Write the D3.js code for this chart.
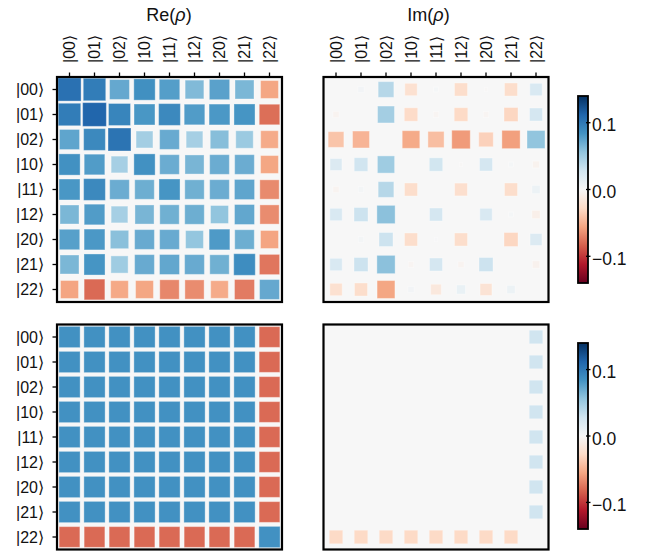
<!DOCTYPE html>
<html>
<head>
<meta charset="utf-8">
<script src="https://cdn.jsdelivr.net/npm/d3@7"></script>
<style>
  body { margin: 0; background: #fff; }
  svg { display: block; font-family: "Liberation Sans", Arial, sans-serif; }
</style>
</head>
<body>
<script>
// basis states (rows and columns of the density matrix)
const states = ["00", "01", "02", "10", "11", "12", "20", "21", "22"];

// measured Re(rho), rows in the order of `states`
const reMeasured = [
  [0.105, 0.098, 0.072, 0.086, 0.078, 0.062, 0.076, 0.064, -0.055],
  [0.098, 0.112, 0.093, 0.082, 0.090, 0.079, 0.081, 0.083, -0.078],
  [0.074, 0.090, 0.103, 0.048, 0.071, 0.047, 0.060, 0.052, -0.053],
  [0.085, 0.079, 0.047, 0.085, 0.070, 0.065, 0.070, 0.070, -0.055],
  [0.082, 0.090, 0.070, 0.069, 0.083, 0.068, 0.070, 0.074, -0.067],
  [0.064, 0.079, 0.047, 0.065, 0.068, 0.069, 0.056, 0.073, -0.066],
  [0.077, 0.081, 0.059, 0.071, 0.071, 0.055, 0.080, 0.069, -0.056],
  [0.064, 0.083, 0.050, 0.071, 0.073, 0.071, 0.068, 0.088, -0.075],
  [-0.056, -0.080, -0.054, -0.055, -0.068, -0.066, -0.053, -0.073, 0.072]
];

// measured Im(rho)
const imMeasured = [
  [0, 0.004, 0.040, -0.022, 0.002, -0.025, -0.001, -0.025, 0.022],
  [-0.004, 0, 0.048, -0.027, -0.003, -0.028, -0.003, -0.030, 0.025],
  [-0.040, -0.048, 0, -0.053, -0.043, -0.060, -0.033, -0.058, 0.056],
  [0.020, 0.028, 0.050, 0, 0.027, -0.001, 0.025, 0.002, -0.005],
  [-0.004, 0.003, 0.040, -0.025, 0, -0.024, 0, -0.025, 0.008],
  [0.022, 0.030, 0.058, 0, 0.025, 0, 0.022, 0.002, -0.008],
  [0, 0.003, 0.030, -0.025, 0.001, -0.025, 0, -0.030, 0.020],
  [0.022, 0.030, 0.058, -0.003, 0.025, -0.004, 0.030, 0, -0.006],
  [-0.022, -0.025, -0.055, 0.004, -0.015, 0.010, -0.020, 0.008, 0]
];

// ideal Re(rho)
const reIdeal = [
  [0.085, 0.085, 0.085, 0.085, 0.085, 0.085, 0.085, 0.085, -0.08],
  [0.085, 0.085, 0.085, 0.085, 0.085, 0.085, 0.085, 0.085, -0.08],
  [0.085, 0.085, 0.085, 0.085, 0.085, 0.085, 0.085, 0.085, -0.08],
  [0.085, 0.085, 0.085, 0.085, 0.085, 0.085, 0.085, 0.085, -0.08],
  [0.085, 0.085, 0.085, 0.085, 0.085, 0.085, 0.085, 0.085, -0.08],
  [0.085, 0.085, 0.085, 0.085, 0.085, 0.085, 0.085, 0.085, -0.08],
  [0.085, 0.085, 0.085, 0.085, 0.085, 0.085, 0.085, 0.085, -0.08],
  [0.085, 0.085, 0.085, 0.085, 0.085, 0.085, 0.085, 0.085, -0.08],
  [-0.08, -0.08, -0.08, -0.08, -0.08, -0.08, -0.08, -0.08, 0.085]
];

// ideal Im(rho)
const imIdeal = [
  [0, 0, 0, 0, 0, 0, 0, 0, 0.028],
  [0, 0, 0, 0, 0, 0, 0, 0, 0.028],
  [0, 0, 0, 0, 0, 0, 0, 0, 0.028],
  [0, 0, 0, 0, 0, 0, 0, 0, 0.028],
  [0, 0, 0, 0, 0, 0, 0, 0, 0.028],
  [0, 0, 0, 0, 0, 0, 0, 0, 0.028],
  [0, 0, 0, 0, 0, 0, 0, 0, 0.028],
  [0, 0, 0, 0, 0, 0, 0, 0, 0.028],
  [-0.028, -0.028, -0.028, -0.028, -0.028, -0.028, -0.028, -0.028, 0]
];

const colorbarTicks = [-0.1, 0, 0.1];

const width = 647, height = 552;
const side = 225;
const vmax = 0.14;
const ket = s => `|${s}\u27E9`;

// RdBu like matplotlib: linear through the 11 brewer colours
const rdbu = d3.schemeRdBu[11];
const color = d3.scaleLinear()
  .domain(rdbu.map((_, i) => -vmax + i * 2 * vmax / 10))
  .range(rdbu)
  .interpolate(d3.interpolateRgb);

// square side grows with |value|
const size = d3.scalePow().exponent(0.4)
  .domain([0, 0.115])
  .range([0, 24])
  .clamp(true);

const band = d3.scaleBand().domain(states).range([0, side]);

const svg = d3.select("body").append("svg")
  .attr("width", width)
  .attr("height", height);

function panel(matrix, x0, y0, opts = {}) {
  const g = svg.append("g").attr("transform", `translate(${x0},${y0})`);

  g.append("rect")
    .attr("width", side)
    .attr("height", side)
    .attr("fill", color(0));

  const cells = matrix.flatMap((row, i) => row.map((v, j) => ({ r: states[i], c: states[j], v })));

  g.selectAll("rect.cell")
    .data(cells.filter(d => d.v !== 0))
    .join("rect")
    .attr("class", "cell")
    .attr("x", d => band(d.c) + band.bandwidth() / 2 - size(Math.abs(d.v)) / 2)
    .attr("y", d => band(d.r) + band.bandwidth() / 2 - size(Math.abs(d.v)) / 2)
    .attr("width", d => size(Math.abs(d.v)))
    .attr("height", d => size(Math.abs(d.v)))
    .attr("fill", d => color(d.v))
    .attr("stroke", "#fff")
    .attr("stroke-opacity", 0.35)
    .attr("stroke-width", 1);

  if (opts.rows) {
    g.selectAll("line.ytick")
      .data(states)
      .join("line")
      .attr("x1", -4.5).attr("x2", 0)
      .attr("y1", d => band(d) + band.bandwidth() / 2)
      .attr("y2", d => band(d) + band.bandwidth() / 2)
      .attr("stroke", "#000")
      .attr("stroke-width", 1.3);

    g.selectAll("text.ylab")
      .data(states)
      .join("text")
      .attr("x", -13)
      .attr("y", d => band(d) + band.bandwidth() / 2)
      .attr("dy", "0.35em")
      .attr("text-anchor", "end")
      .attr("font-size", 16)
      .attr("fill", "#111")
      .text(ket);
  }

  if (opts.cols) {
    g.selectAll("line.xtick")
      .data(states)
      .join("line")
      .attr("y1", -4.5).attr("y2", 0)
      .attr("x1", d => band(d) + band.bandwidth() / 2)
      .attr("x2", d => band(d) + band.bandwidth() / 2)
      .attr("stroke", "#000")
      .attr("stroke-width", 1.3);

    g.selectAll("text.xlab")
      .data(states)
      .join("text")
      .attr("transform", d => `translate(${band(d) + band.bandwidth() / 2},-14) rotate(-90)`)
      .attr("dy", "0.35em")
      .attr("text-anchor", "start")
      .attr("font-size", 16)
      .attr("fill", "#111")
      .text(ket);
  }

  if (opts.title) {
    const t = g.append("text")
      .attr("x", opts.titleX)
      .attr("y", 21 - y0)
      .attr("text-anchor", "middle")
      .attr("font-size", 18)
      .attr("fill", "#111");
    t.append("tspan").text(opts.title + "(");
    t.append("tspan").attr("font-style", "italic").text("\u03C1");
    t.append("tspan").text(")");
  }

  g.append("rect")
    .attr("width", side)
    .attr("height", side)
    .attr("fill", "none")
    .attr("stroke", "#000")
    .attr("stroke-width", 2.2);
}

// colour gradient shared by both colorbars
const grad = svg.append("defs").append("linearGradient")
  .attr("id", "rdbu")
  .attr("x1", 0).attr("y1", 1).attr("x2", 0).attr("y2", 0);
grad.selectAll("stop")
  .data(rdbu)
  .join("stop")
  .attr("offset", (d, i) => i / 10)
  .attr("stop-color", d => d);

function colorbar(x0, yTop, yBottom) {
  const y = d3.scaleLinear().domain([-vmax, vmax]).range([yBottom, yTop]);
  const g = svg.append("g").attr("transform", `translate(${x0},0)`);
  g.append("rect")
    .attr("y", yTop)
    .attr("width", 10)
    .attr("height", yBottom - yTop)
    .attr("fill", "url(#rdbu)")
    .attr("stroke", "#000")
    .attr("stroke-width", 1.8);

  g.selectAll("line")
    .data(colorbarTicks)
    .join("line")
    .attr("x1", 8).attr("x2", 12.5)
    .attr("y1", d => y(d)).attr("y2", d => y(d))
    .attr("stroke", "#000")
    .attr("stroke-width", 1.3);

  g.selectAll("text")
    .data(colorbarTicks)
    .join("text")
    .attr("x", 14)
    .attr("y", d => y(d))
    .attr("dy", "0.5em")
    .attr("font-size", 17.5)
    .attr("fill", "#111")
    .text(d => d === 0 ? "0.0" : d3.format(".1f")(d).replace("-", "\u2013"));
}

panel(reMeasured, 57, 77, { rows: true, cols: true, title: "Re", titleX: 112 });
panel(imMeasured, 323.5, 77, { cols: true, title: "Im", titleX: 105 });
panel(reIdeal, 57, 324.5, { rows: true });
panel(imIdeal, 323.5, 324.5, {});

colorbar(578, 96, 283);
colorbar(578, 343, 529);
</script>
</body>
</html>
